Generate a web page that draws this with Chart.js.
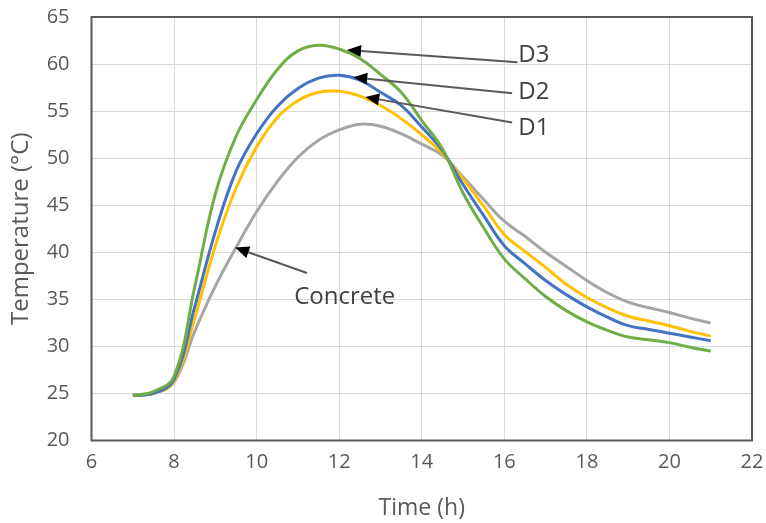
<!DOCTYPE html>
<html>
<head>
<meta charset="utf-8">
<script src="https://cdn.jsdelivr.net/npm/chart.js@4.4.1/dist/chart.umd.min.js"></script>
<style>
  html, body { margin: 0; padding: 0; background: #ffffff; }
  #wrap { width: 766px; height: 523px; }
</style>
</head>
<body>
<div id="wrap"><canvas id="myChart" width="766" height="523"></canvas></div>
<script>
// Datos (tiempo en horas, temperatura en °C)
const horas = [7, 7.5, 8, 8.5, 9, 9.5, 10, 10.5, 11, 11.5, 12, 12.5, 13, 13.5, 14,
  14.5, 15, 15.5, 16, 16.5, 17, 17.5, 18, 18.5, 19, 19.5, 20, 20.5, 21];

const tempD3 = [24.8, 25.2, 26.8, 36.3, 46.2, 52.3, 56.2, 59.4, 61.4, 62.0, 61.6, 60.6, 58.9, 57.0, 54.0,
  51.0, 46.3, 42.6, 39.3, 37.2, 35.3, 33.8, 32.6, 31.7, 31.0, 30.7, 30.4, 29.9, 29.5];
const tempD2 = [24.8, 25.0, 26.5, 34.2, 42.2, 48.6, 52.6, 55.5, 57.4, 58.5, 58.8, 58.3, 57.0, 55.6, 53.3,
  50.8, 47.2, 43.9, 40.7, 38.8, 37.0, 35.5, 34.2, 33.1, 32.2, 31.8, 31.4, 31.0, 30.6];
const tempD1 = [24.8, 25.0, 26.3, 33.0, 40.7, 46.8, 51.2, 54.3, 56.1, 57.0, 57.1, 56.6, 55.6, 54.2, 52.5,
  50.5, 47.8, 44.9, 41.9, 40.1, 38.4, 36.6, 35.2, 34.1, 33.2, 32.7, 32.2, 31.6, 31.1];
const tempConcreto = [24.8, 25.0, 26.2, 31.6, 36.4, 40.5, 44.3, 47.5, 50.1, 51.9, 53.0, 53.6, 53.4, 52.6, 51.5,
  50.3, 48.0, 45.6, 43.3, 41.7, 40.0, 38.5, 37.0, 35.7, 34.7, 34.1, 33.6, 33.0, 32.5];

// Etiquetas con flecha (coordenadas en unidades de los ejes)
const etiquetas = [
  { texto: 'D3', tx: 16.34, ty: 60.96, x0: 16.32, y0: 60.2, x1: 12.19, y1: 61.5 },
  { texto: 'D2', tx: 16.34, ty: 57.0, x0: 16.19, y0: 56.9, x1: 12.34, y1: 58.6 },
  { texto: 'D1', tx: 16.34, ty: 53.2, x0: 16.19, y0: 53.8, x1: 12.63, y1: 56.5 },
  { texto: 'Concrete', tx: 10.91, ty: 35.2, x0: 11.22, y0: 37.8, x1: 9.48, y1: 40.5 }
];

const fuente = "'Open Sans', 'Noto Sans', sans-serif";

function serie(nombre, valores, color, orden) {
  return {
    label: nombre,
    data: horas.map((h, i) => ({ x: h, y: valores[i] })),
    borderColor: color,
    backgroundColor: color,
    borderWidth: 3,
    pointRadius: 0,
    tension: 0.4,
    order: orden
  };
}

// Marco alrededor del área de trazado
const marco = {
  id: 'marco',
  afterDatasetsDraw(chart) {
    const { ctx, chartArea: a } = chart;
    ctx.save();
    ctx.strokeStyle = '#595959';
    ctx.lineWidth = 2;
    ctx.strokeRect(a.left, a.top, a.right - a.left, a.bottom - a.top);
    ctx.restore();
  }
};

// Flechas y textos de las curvas
const flechas = {
  id: 'flechas',
  afterDraw(chart) {
    const { ctx } = chart;
    const sx = chart.scales.x, sy = chart.scales.y;
    ctx.save();
    etiquetas.forEach((e) => {
      const x0 = sx.getPixelForValue(e.x0), y0 = sy.getPixelForValue(e.y0);
      const x1 = sx.getPixelForValue(e.x1), y1 = sy.getPixelForValue(e.y1);
      const ang = Math.atan2(y1 - y0, x1 - x0);
      const largo = 14, ancho = 6;
      ctx.strokeStyle = '#595959';
      ctx.lineWidth = 2;
      ctx.beginPath();
      ctx.moveTo(x0, y0);
      ctx.lineTo(x1 - Math.cos(ang) * largo, y1 - Math.sin(ang) * largo);
      ctx.stroke();
      ctx.fillStyle = '#000000';
      ctx.beginPath();
      ctx.moveTo(x1, y1);
      ctx.lineTo(x1 - Math.cos(ang) * largo - Math.sin(ang) * ancho, y1 - Math.sin(ang) * largo + Math.cos(ang) * ancho);
      ctx.lineTo(x1 - Math.cos(ang) * largo + Math.sin(ang) * ancho, y1 - Math.sin(ang) * largo - Math.cos(ang) * ancho);
      ctx.closePath();
      ctx.fill();
      ctx.fillStyle = '#404040';
      ctx.font = '24px ' + fuente;
      ctx.textAlign = 'left';
      ctx.textBaseline = 'middle';
      ctx.fillText(e.texto, sx.getPixelForValue(e.tx), sy.getPixelForValue(e.ty));
    });
    ctx.restore();
  }
};

const grafica = new Chart(document.getElementById('myChart'), {
  type: 'line',
  data: {
    datasets: [
      serie('D3', tempD3, '#70AD47', 0),
      serie('D2', tempD2, '#4472C4', 1),
      serie('D1', tempD1, '#FFC000', 2),
      serie('Concrete', tempConcreto, '#A5A5A5', 3)
    ]
  },
  options: {
    responsive: false,
    animation: false,
    devicePixelRatio: 1,
    layout: { padding: { top: 17, right: 14, left: 0, bottom: 0 } },
    plugins: { legend: { display: false }, tooltip: { enabled: false } },
    scales: {
      x: {
        type: 'linear',
        min: 6,
        max: 22,
        ticks: { stepSize: 2, color: '#595959', padding: 10, font: { family: fuente, size: 20 } },
        grid: { color: '#d9d9d9', lineWidth: 1, drawTicks: false },
        border: { display: false },
        title: { display: true, text: 'Time (h)', color: '#595959', padding: { top: 0, bottom: 1 }, font: { family: fuente, size: 23 } },
        afterFit: (scale) => { scale.height = 82.5; scale.paddingLeft = 0; scale.paddingRight = 0; }
      },
      y: {
        min: 20,
        max: 65,
        ticks: { stepSize: 5, color: '#595959', padding: 22, font: { family: fuente, size: 20 } },
        grid: { color: '#d9d9d9', lineWidth: 1, drawTicks: false },
        border: { display: false },
        title: { display: true, text: 'Temperature (°C)', color: '#595959', padding: { top: 7, bottom: 0 }, font: { family: fuente, size: 24 } },
        afterFit: (scale) => { scale.width = 91.5; scale.paddingTop = 0; scale.paddingBottom = 0; }
      }
    }
  },
  plugins: [marco, flechas]
});
</script>
</body>
</html>
